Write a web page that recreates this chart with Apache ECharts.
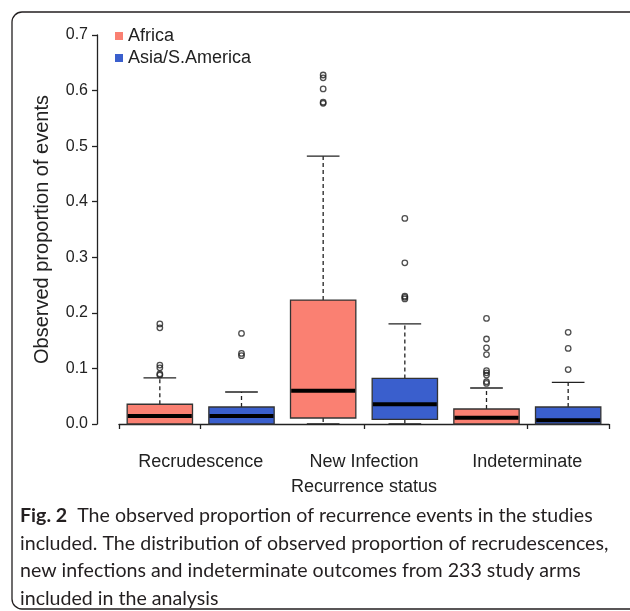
<!DOCTYPE html>
<html><head><meta charset="utf-8">
<script src="https://cdn.jsdelivr.net/npm/echarts@6/dist/echarts.min.js"></script>
<style>html,body{margin:0;padding:0;background:#fff}#c{width:630px;height:611px}</style>
</head><body><div id="c"></div>
<script>
// ---- data ----
const categories = ['Recrudescence', 'New Infection', 'Indeterminate'];
const groups = ['Africa', 'Asia/S.America'];
// [min, q1, median, q3, upper whisker]
const africaStats = [
  [0, 0, 0.0144, 0.0355, 0.083],
  [0, 0.0108, 0.060, 0.223, 0.482],
  [0, 0, 0.0114, 0.027, 0.0648]
];
const asiaStats = [
  [0, 0, 0.0144, 0.0306, 0.0576],
  [0, 0.0084, 0.0354, 0.082, 0.180],
  [0, 0, 0.0066, 0.0306, 0.075]
];
const africaOutliers = [
  [0.180, 0.173, 0.106, 0.101, 0.090, 0.088],
  [0.628, 0.623, 0.603, 0.579, 0.577],
  [0.190, 0.153, 0.137, 0.125, 0.096, 0.092, 0.088, 0.076, 0.073]
];
const asiaOutliers = [
  [0.163, 0.127, 0.123],
  [0.370, 0.290, 0.230, 0.228, 0.225],
  [0.165, 0.136, 0.098]
];
const groupColors = ['#FA8072', '#3A5FCD'];
const captionLines = [
  'The observed proportion of recurrence events in the studies',
  'included. The distribution of observed proportion of recrudescences,',
  'new infections and indeterminate outcomes from 233 study arms',
  'included in the analysis'
];

// ---- build ----
const slots = categories.flatMap(c => groups.map(g => c + ' / ' + g));
const statsByGroup = [africaStats, asiaStats];
const outByGroup = [africaOutliers, asiaOutliers];
const FONT = 'Liberation Sans, Arial, sans-serif';
const INK = '#222';

function renderBox(params, api) {
  const x = api.value(0);
  const pts = [1, 2, 3, 4, 5].map(k => api.coord([x, api.value(k)]));
  const cx = pts[0][0];
  const band = api.size([1, 0])[0];
  const bw = band * 0.8, cw = bw * 0.5;
  const [yMin, yQ1, yMed, yQ3, yMax] = pts.map(p => p[1]);
  const ls = { stroke: INK, lineWidth: 1.3 };
  return {
    type: 'group',
    children: [
      { type: 'line', shape: { x1: cx, y1: yQ3, x2: cx, y2: yMax }, style: Object.assign({}, ls, { lineDash: [4, 3] }) },
      { type: 'line', shape: { x1: cx, y1: yQ1, x2: cx, y2: yMin }, style: Object.assign({}, ls, { lineDash: [4, 3] }) },
      { type: 'line', shape: { x1: cx - cw / 2, y1: yMax, x2: cx + cw / 2, y2: yMax }, style: ls },
      { type: 'line', shape: { x1: cx - cw / 2, y1: yMin, x2: cx + cw / 2, y2: yMin }, style: ls },
      { type: 'rect', shape: { x: cx - bw / 2, y: yQ3, width: bw, height: yQ1 - yQ3 },
        style: { fill: api.visual('color'), stroke: '#333', lineWidth: 1.3 } },
      { type: 'line', shape: { x1: cx - bw / 2 + 0.7, y1: yMed, x2: cx + bw / 2 - 0.7, y2: yMed },
        style: { stroke: '#000', lineWidth: 4 } }
    ]
  };
}

const series = [];
groups.forEach((g, gi) => {
  series.push({
    name: g, type: 'custom', xAxisIndex: 0, yAxisIndex: 0,
    itemStyle: { color: groupColors[gi] },
    renderItem: renderBox,
    encode: { x: 0, y: [1, 2, 3, 4, 5] },
    data: statsByGroup[gi].map((s, ci) => [ci * 2 + gi].concat(s))
  });
});
groups.forEach((g, gi) => {
  series.push({
    name: g + ' outliers', type: 'scatter', xAxisIndex: 0, yAxisIndex: 0,
    symbol: 'circle', symbolSize: 5.5,
    itemStyle: { color: 'rgba(0,0,0,0)', borderColor: INK, borderWidth: 1.3 },
    data: outByGroup[gi].flatMap((arr, ci) => arr.map(v => [ci * 2 + gi, v]))
  });
});

const captionText = '{b|Fig. 2}{r|  ' + captionLines[0] + '}\n' +
  captionLines.slice(1).map(l => '{r|' + l + '}').join('\n');

const chart = echarts.init(document.getElementById('c'), null, { renderer: 'canvas' });
chart.setOption({
  animation: false,
  backgroundColor: '#fff',
  textStyle: { fontFamily: FONT },
  graphic: [{
    type: 'rect', silent: true,
    shape: { x: 12, y: 12, width: 640, height: 597, r: 10 },
    style: { fill: 'none', stroke: '#231f20', lineWidth: 1.3 }
  }],
  title: {
    left: 15, top: 497,
    text: captionText,
    textStyle: {
      fontWeight: 'normal',
      rich: {
        b: { fontFamily: 'Lato', fontWeight: 'bold', fontSize: 19.6, color: '#231f20', lineHeight: 27.5 },
        r: { fontFamily: 'Lato', fontWeight: 'normal', fontSize: 19.6, color: '#231f20', lineHeight: 27.5 }
      }
    }
  },
  legend: {
    data: groups, orient: 'vertical', left: 110, top: 22,
    icon: 'rect', itemWidth: 8, itemHeight: 8, itemGap: 4,
    textStyle: { fontFamily: FONT, fontSize: 18, color: INK, lineHeight: 18 }
  },
  grid: { left: 119, right: 21, top: 35, bottom: 187, containLabel: false },
  xAxis: [{
    type: 'category', data: slots, position: 'bottom', offset: 16, boundaryGap: true,
    axisLine: { lineStyle: { color: INK, width: 1.3 } },
    axisTick: { show: true, length: 5, lineStyle: { color: INK, width: 1.3 },
      interval: idx => idx === 0 || idx % 2 === 1 },
    axisLabel: { show: false }, splitLine: { show: false }
  }, {
    type: 'category', data: categories, position: 'bottom', offset: 16,
    axisLine: { show: false }, axisTick: { show: false },
    axisLabel: { fontFamily: FONT, fontSize: 18, color: INK, margin: 13 },
    name: 'Recurrence status', nameLocation: 'middle', nameGap: 38,
    nameTextStyle: { fontFamily: FONT, fontSize: 18, color: INK }
  }],
  yAxis: {
    type: 'value', min: 0, max: 0.7, interval: 0.1, offset: 22,
    axisLine: { show: true, lineStyle: { color: INK, width: 1.3 } },
    axisTick: { show: true, length: 5, lineStyle: { color: INK, width: 1.3 } },
    axisLabel: { fontFamily: FONT, fontSize: 16, color: INK, margin: 9, formatter: v => v.toFixed(1) },
    splitLine: { show: false },
    name: 'Observed proportion of events', nameLocation: 'middle', nameGap: 45, nameRotate: 90,
    nameTextStyle: { fontFamily: FONT, fontSize: 20, color: INK }
  },
  series: series
});
</script></body></html>
